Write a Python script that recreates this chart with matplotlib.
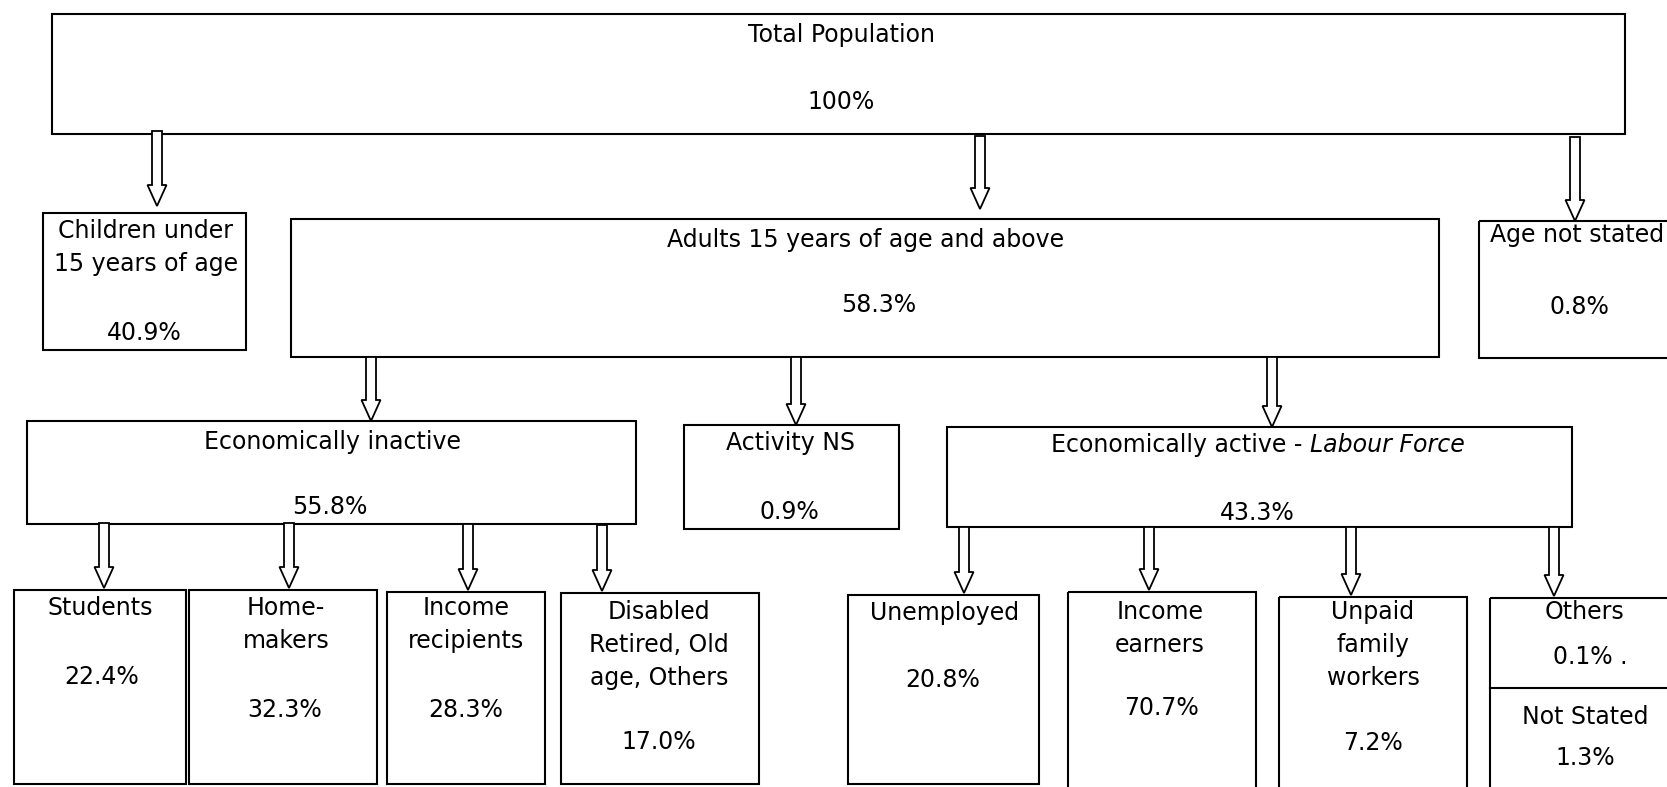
import matplotlib
matplotlib.use("Agg")
import matplotlib.pyplot as plt
from matplotlib.patches import Rectangle, Polygon

plt.rcParams['font.family'] = ['DejaVu Sans']

# node labels and shares (as printed on the chart)
labels = [
    ["Total Population"],
    ["Children under", "15 years of age"],
    ["Adults 15 years of age and above"],
    ["Age not stated"],
    ["Economically inactive"],
    ["Activity NS"],
    ["Economically active - "],
    ["Students"],
    ["Home-", "makers"],
    ["Income", "recipients"],
    ["Disabled", "Retired, Old", "age, Others"],
    ["Unemployed"],
    ["Income", "earners"],
    ["Unpaid", "family", "workers"],
    ["Others"],
]
values = ["100%", "40.9%", "58.3%", "0.8%", "55.8%", "0.9%", "43.3%",
          "22.4%", "32.3%", "28.3%", "17.0%",
          "20.8%", "70.7%", "7.2%", "0.1% ."]
extra_label = "Not Stated"
extra_value = "1.3%"

# layout in pixels: box (x0, y0, x1, y1), text x, first label y, value y
boxes = [
    (52, 14, 1625, 134), (43, 213, 246, 350), (291, 219, 1439, 357),
    (1479, 221, 1690, 358), (27, 421, 636, 524), (684, 425, 899, 529),
    (947, 427, 1572, 527), (14, 590, 186, 784), (189, 590, 377, 784),
    (387, 592, 545, 784), (561, 593, 759, 784), (848, 595, 1039, 784),
    (1068, 592, 1256, 790), (1279, 597, 1467, 790), (1490, 598, 1690, 790),
]
text_x = [841, 146, 866, 1577, 333, 791, 1310, 100, 286, 466, 659, 945,
          1160, 1373, 1585]
label_y = [35, 231, 240, 235, 442, 443, 445, 608, 608, 608, 612, 613,
           612, 612, 612]
value_x = [841, 144, 879, 1579, 330, 789, 1257, 102, 285, 466, 659, 943,
           1161, 1373, 1590]
value_y = [102, 333, 305, 307, 507, 512, 513, 677, 710, 710, 742, 680,
           708, 743, 657]
line_gap = 33

# arrows: x, start y, end y
arrows = [
    (157, 131, 206), (980, 136, 209), (1575, 137, 221),
    (371, 357, 421), (796, 357, 425), (1272, 357, 427),
    (104, 523, 588), (289, 523, 588), (468, 524, 590), (602, 525, 591),
    (964, 527, 593), (1149, 527, 590), (1351, 527, 595), (1554, 527, 596),
]

W, H = 1667, 787
fig = plt.figure(figsize=(W / 100, H / 100), dpi=100)
ax = fig.add_axes([0, 0, 1, 1])
ax.set_xlim(0, W)
ax.set_ylim(H, 0)
ax.axis('off')

fs = 17
lw = 1.5

for i, (x0, y0, x1, y1) in enumerate(boxes):
    ax.add_patch(Rectangle((x0, y0), x1 - x0, y1 - y0, fill=False,
                           ec='black', lw=lw, zorder=2))
    for k, line in enumerate(labels[i]):
        ax.text(text_x[i], label_y[i] + k * line_gap, line, fontsize=fs,
                ha='right' if i == 6 else 'center', va='center', zorder=4)
    ax.text(value_x[i], value_y[i], values[i], fontsize=fs, ha='center',
            va='center', zorder=4)

# italic tail of the labour force label
ax.text(text_x[6], label_y[6], "Labour Force", fontsize=fs, style='italic',
        ha='left', va='center', zorder=4)

# split of the last box
ob = boxes[-1]
ax.plot([ob[0], ob[2]], [688, 688], color='black', lw=lw, zorder=2)
ax.text(text_x[-1], 717, extra_label, fontsize=fs, ha='center', va='center')
ax.text(text_x[-1], 758, extra_value, fontsize=fs, ha='center', va='center')

# hollow block arrows
sw, hw, hl = 10, 19, 21
for x, ya, yb in arrows:
    pts = [(x - sw / 2, ya), (x + sw / 2, ya), (x + sw / 2, yb - hl),
           (x + hw / 2, yb - hl), (x, yb), (x - hw / 2, yb - hl),
           (x - sw / 2, yb - hl)]
    ax.add_patch(Polygon(pts, closed=True, fc='white', ec='black', lw=1.3,
                         zorder=3))

fig.savefig('out.png', dpi=100, facecolor='white')
